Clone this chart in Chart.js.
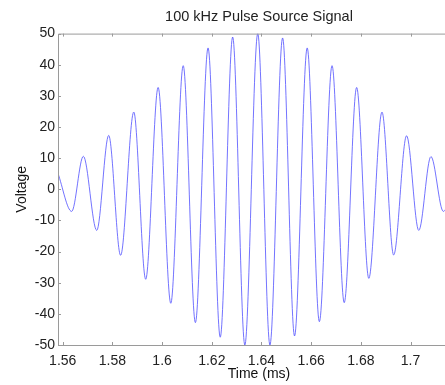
<!DOCTYPE html>
<html>
<head>
<meta charset="utf-8">
<script src="https://cdn.jsdelivr.net/npm/chart.js@4.4.1/dist/chart.umd.min.js"></script>
<style>
  html, body { margin: 0; padding: 0; background: #fff; overflow: hidden; }
  #wrap { position: relative; width: 460px; height: 385px; }
</style>
</head>
<body>
<div id="wrap"><canvas id="pulseChart" width="460" height="385"></canvas></div>
<script>
// extrema of the pulse (ms, volts)
const timeMs = [
  1.5581, 1.5636, 1.5683, 1.5737, 1.5785, 1.5833, 1.5886, 1.5934, 1.5984, 1.6035,
  1.6085, 1.6134, 1.6185, 1.6234, 1.6284, 1.6333, 1.6385, 1.6434, 1.6485, 1.6533,
  1.6584, 1.6633, 1.6684, 1.6733, 1.6783, 1.6832, 1.6885, 1.6932, 1.6984, 1.7033,
  1.7082, 1.7132, 1.7183
];
const voltage = [
  5.1, -7.1, 10.6, -13.2, 17.3, -21.2, 24.8, -28.9, 32.7, -36.6,
  39.7, -42.8, 45.4, -47.5, 48.9, -50.0, 50.0, -50.0, 48.6, -47.1,
  45.4, -42.5, 39.7, -36.4, 32.7, -28.6, 24.8, -21.1, 17.2, -13.2,
  10.5, -7.1, 5.1
];
const yTicks = [-50, -40, -30, -20, -10, 0, 10, 20, 30, 40, 50];
const xTicks = [1.56, 1.58, 1.6, 1.62, 1.64, 1.66, 1.68, 1.7];

const points = timeMs.map((t, i) => ({ x: t, y: voltage[i] }));
const axisGrey = '#9a9a9a';
const tickFont = { family: 'Liberation Sans, Arial, sans-serif', size: 14 };

// matlab-ish box with inward tick marks
const boxTicks = {
  id: 'boxTicks',
  afterDatasetsDraw(chart) {
    const { ctx, chartArea: a, scales } = chart;
    ctx.save();
    ctx.strokeStyle = axisGrey;
    ctx.lineWidth = 1;
    ctx.beginPath();
    ctx.moveTo(a.left + 0.5, a.bottom + 0.5);
    ctx.lineTo(a.left + 0.5, a.top + 0.5);
    ctx.lineTo(a.right, a.top + 0.5);
    ctx.moveTo(a.left + 0.5, a.bottom + 0.5);
    ctx.lineTo(a.right, a.bottom + 0.5);
    xTicks.forEach(v => {
      const px = Math.round(scales.x.getPixelForValue(v)) + 0.5;
      ctx.moveTo(px, a.bottom); ctx.lineTo(px, a.bottom - 3);
      ctx.moveTo(px, a.top); ctx.lineTo(px, a.top + 3);
    });
    yTicks.forEach(v => {
      const py = Math.round(scales.y.getPixelForValue(v)) + 0.5;
      ctx.moveTo(a.left, py); ctx.lineTo(a.left + 3, py);
    });
    ctx.stroke();
    ctx.restore();
  }
};

new Chart(document.getElementById('pulseChart'), {
  type: 'line',
  data: {
    datasets: [{
      data: points,
      borderColor: 'rgba(80, 80, 255, 0.8)',
      borderWidth: 1,
      pointRadius: 0,
      cubicInterpolationMode: 'monotone',
      fill: false
    }]
  },
  options: {
    responsive: false,
    animation: false,
    layout: { padding: 0 },
    plugins: {
      legend: { display: false },
      tooltip: { enabled: false },
      title: {
        display: true,
        fullSize: false,
        text: '100 kHz Pulse Source Signal',
        color: '#222',
        font: { family: 'Liberation Sans, Arial, sans-serif', size: 14.5, weight: 'normal' },
        padding: { top: 8.5, bottom: 7.7 }
      }
    },
    scales: {
      x: {
        type: 'linear',
        min: 1.5581,
        max: 1.7199,
        afterBuildTicks: s => { s.ticks = xTicks.map(v => ({ value: v })); },
        afterFit: s => { s.height = 40; },
        ticks: {
          color: '#222',
          font: tickFont,
          padding: 8,
          maxRotation: 0,
          autoSkip: false,
          callback: v => String(+v.toFixed(2))
        },
        grid: { display: false, drawTicks: false },
        border: { display: false },
        title: {
          display: true,
          text: 'Time (ms)',
          color: '#111',
          font: tickFont,
          padding: { top: 0, bottom: 2 }
        }
      },
      y: {
        min: -50,
        max: 50,
        afterBuildTicks: s => { s.ticks = yTicks.map(v => ({ value: v })); },
        afterFit: s => { s.width = 58; },
        ticks: {
          color: '#222',
          font: tickFont,
          padding: 3
        },
        grid: { display: false, drawTicks: false },
        border: { display: false },
        title: {
          display: true,
          text: 'Voltage',
          color: '#111',
          font: tickFont,
          padding: { top: 13.5, bottom: 0 }
        }
      }
    }
  },
  plugins: [boxTicks]
});
</script>
</body>
</html>
